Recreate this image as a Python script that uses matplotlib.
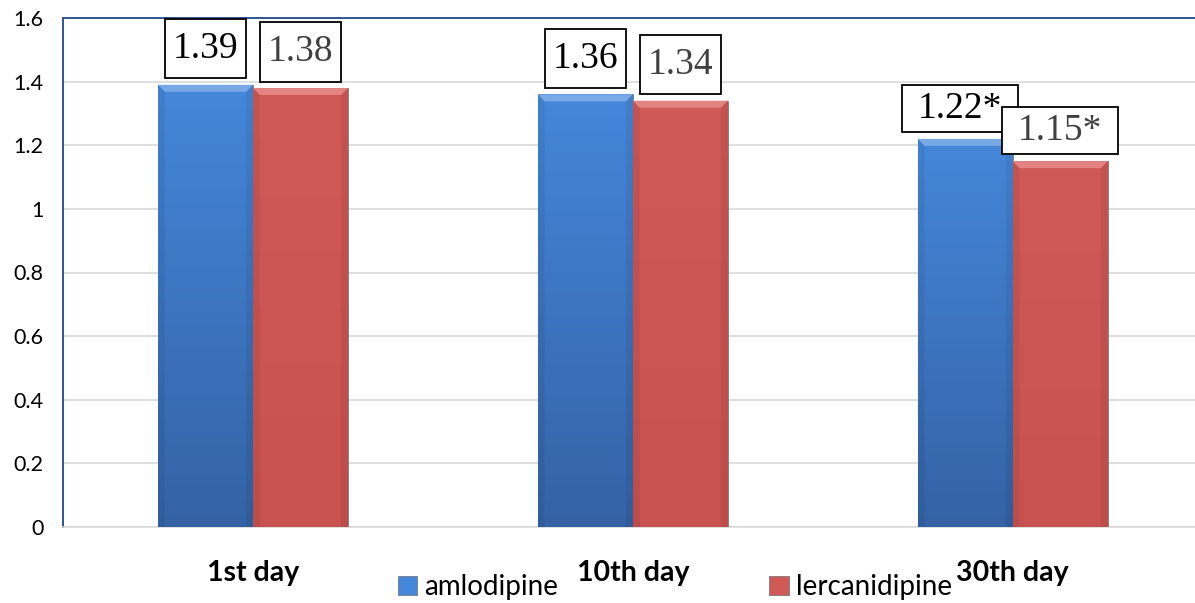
import numpy as np
import matplotlib
matplotlib.use("Agg")
import matplotlib.pyplot as plt
from matplotlib.patches import Patch, Polygon
from matplotlib.path import Path

days = ["1st day", "10th day", "30th day"]
series = ["amlodipine", "lercanidipine"]
amlodipine = [1.39, 1.36, 1.22]
lercanidipine = [1.38, 1.34, 1.15]
value_labels = [["1.39", "1.36", "1.22*"], ["1.38", "1.34", "1.15*"]]

top_colors = ["#4587da", "#d05a58"]
bottom_colors = ["#3462a5", "#c85250"]
bevel_colors = ["#78a8e6", "#e48482"]
label_colors = ["black", "#404040"]

# label box padding (fraction of font size) and lift per day group
box_pad_x = [0.2, 0.2, 0.42]
box_pad_y = [0.33, 0.33, 0.17]
label_lift = [11.5, 11.5, 7.5]
label_dx = [[0, 0, -4], [0, 0, 0]]


def padded_box(px, py):
    def box(x0, y0, width, height, mutation_size):
        dx, dy = px * mutation_size, py * mutation_size
        verts = [(x0 - dx, y0 - dy), (x0 + width + dx, y0 - dy),
                 (x0 + width + dx, y0 + height + dy), (x0 - dx, y0 + height + dy),
                 (x0 - dx, y0 - dy)]
        return Path(verts, closed=True)
    return box


fig = plt.figure(figsize=(11.95, 6.03), dpi=100)
ax = fig.add_axes([63 / 1195, 1 - 527 / 603, (1195 - 63) / 1195, (527 - 18) / 603])

x = np.arange(len(days))
width = 0.25
values = [amlodipine, lercanidipine]
bev_x, bev_y = 0.018, 0.022

for k, vals in enumerate(values):
    offs = x + (k - 0.5) * width
    bars = ax.bar(offs, vals, width, color=top_colors[k], edgecolor="#7a7a7a",
                  linewidth=0.6, zorder=3)
    grad = np.linspace(0, 1, 256).reshape(-1, 1)
    c1 = np.array(matplotlib.colors.to_rgb(top_colors[k]))
    c2 = np.array(matplotlib.colors.to_rgb(bottom_colors[k]))
    img = c2[None, None, :] * (1 - grad[..., None]) + c1[None, None, :] * grad[..., None]
    for b in bars:
        x0, w, h = b.get_x(), b.get_width(), b.get_height()
        im = ax.imshow(img, extent=[x0, x0 + w, 0, h], origin="lower",
                       aspect="auto", zorder=3.5)
        im.set_clip_path(b)
        # bevel: light top face, slightly darker sides
        ax.add_patch(Polygon([(x0, h), (x0 + w, h), (x0 + w - bev_x, h - bev_y),
                              (x0 + bev_x, h - bev_y)], closed=True,
                             fc=bevel_colors[k], ec="none", zorder=3.6))
        for xa, xb in [(x0, x0 + bev_x), (x0 + w, x0 + w - bev_x)]:
            ax.add_patch(Polygon([(xa, h), (xb, h - bev_y), (xb, 0), (xa, 0)],
                                 closed=True, fc="black", alpha=0.06, ec="none",
                                 zorder=3.6))
    for i, (xi, v, txt) in enumerate(zip(offs, vals, value_labels[k])):
        ax.annotate(txt, (xi, v), xytext=(label_dx[k][i], label_lift[i] + 2),
                    textcoords="offset points", ha="center", va="bottom",
                    fontsize=27, family="Liberation Serif", color=label_colors[k],
                    zorder=5 + k,
                    bbox=dict(boxstyle=padded_box(box_pad_x[i], box_pad_y[i]),
                              fc="white", ec="black", lw=1.3))

ax.set_ylim(0, 1.6)
ax.set_xlim(-0.5, 2.48)
ax.set_yticks(np.arange(0, 1.61, 0.2))
ax.set_yticklabels(["0", "0.2", "0.4", "0.6", "0.8", "1", "1.2", "1.4", "1.6"],
                   fontsize=15.5, family="Lato")
ax.set_xticks(x)
ax.set_xticklabels(days, fontsize=20.5, fontweight="bold", family="Lato")
ax.tick_params(axis="both", length=0)
ax.tick_params(axis="x", pad=24)
ax.tick_params(axis="y", pad=14)
ax.grid(axis="y", color="#d9d9d9", linewidth=1.2, zorder=0)
ax.set_axisbelow(True)
for s in ["left", "top"]:
    ax.spines[s].set_color("#2f5597")
    ax.spines[s].set_linewidth(1.4)
ax.spines["right"].set_visible(False)
ax.spines["bottom"].set_color("#d9d9d9")
ax.spines["bottom"].set_linewidth(1.2)

handles = [Patch(facecolor=top_colors[k], edgecolor="#7a7a7a", lw=0.6) for k in range(2)]
fig.legend(handles, series, loc="center", bbox_to_anchor=(675 / 1195, 1 - 587 / 603),
           ncol=2, frameon=False, prop={"family": "Lato", "size": 20},
           handlelength=0.7, handleheight=0.7, handletextpad=0.25,
           columnspacing=7.6, borderpad=0, borderaxespad=0)

fig.savefig("out.png", dpi=100)
